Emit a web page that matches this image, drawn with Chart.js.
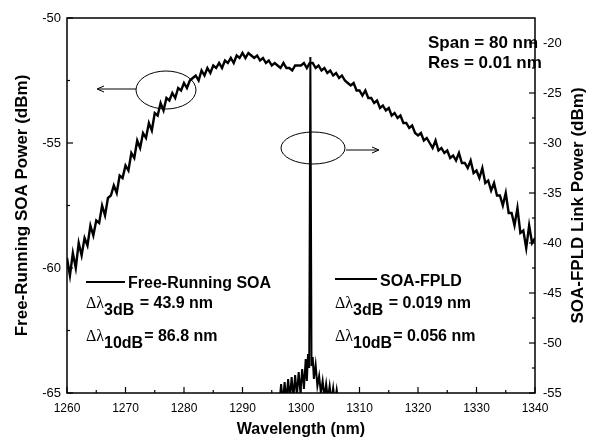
<!DOCTYPE html>
<html>
<head>
<meta charset="utf-8">
<script src="https://cdn.jsdelivr.net/npm/chart.js@4.4.1/dist/chart.umd.min.js"></script>
<style>
  html, body { margin: 0; padding: 0; background: #fff; }
  #wrap { width: 593px; height: 440px; position: relative; }
</style>
</head>
<body>
<div id="wrap"><canvas id="spectrum"></canvas></div>
<script>
// Free-running SOA spectrum, left axis (dBm), sampled every 0.5 nm from 1260 nm
var soaStart = 1260;
var soaStep = 0.5;
var soaDbm = [
  -59.6, -60.3, -59.4, -60.0,  -59.0, -59.5, -58.8, -59.1,
  -58.3, -58.7, -58.1, -58.2,  -57.5, -57.9, -57.2, -57.1,
  -56.7, -57.0, -56.3, -56.4,  -55.9, -56.1, -55.4, -55.6,
  -54.9, -55.2, -54.6, -54.8,  -54.2, -54.5, -53.8, -53.9,
  -53.4, -53.7, -53.2, -53.3,  -53.0, -53.2, -52.8, -52.9,
  -52.6, -52.8, -52.5, -52.4,  -52.3, -52.5, -52.1, -52.3,
  -52.0, -52.2, -51.9, -52.0,  -51.8, -52.0, -51.7, -51.8,
  -51.6, -51.8, -51.5, -51.6,  -51.4, -51.6, -51.4, -51.5,
  -51.6, -51.5, -51.7, -51.6,  -51.8, -51.7, -51.9, -51.8,
  -51.9, -52.0, -51.8, -52.0,  -52.0, -52.1, -51.9, -51.9,
  -51.9, -51.8, -52.0, -51.8,  -51.8, -52.0, -51.9, -52.1,
  -52.0, -52.2, -52.1, -52.3,  -52.2, -52.4, -52.3, -52.5,
  -52.6, -52.7, -52.6, -52.9,  -52.9, -53.1, -52.9, -53.2,
  -53.2, -53.4, -53.3, -53.6,  -53.5, -53.7, -53.6, -53.9,
  -53.8, -54.0, -53.9, -54.2,  -54.2, -54.4, -54.3, -54.6,
  -54.7, -54.6, -54.9, -54.8,  -55.0, -55.2, -54.9, -55.3,
  -55.2, -55.4, -55.3, -55.6,  -55.5, -55.7, -55.4, -55.8,
  -55.8, -56.0, -55.7, -56.2,  -56.1, -56.4, -56.0, -56.6,
  -56.5, -56.9, -56.6, -57.1,  -57.1, -57.5, -57.0, -57.8,
  -57.8, -58.3, -57.6, -58.6,  -58.5, -59.2, -58.3, -59.0,
  -58.8
];

// SOA-FPLD link spectrum, right axis (dBm)
var fpldWl = [
  1296.3, 1296.6, 1296.9, 1297.2, 1297.5, 1297.8, 1298.1, 1298.4, 1298.7, 1299.0,
  1299.3, 1299.6, 1299.9, 1300.2, 1300.5, 1300.8, 1301.0, 1301.2, 1301.4, 1301.6,
  1301.8, 1302.0, 1302.2, 1302.5, 1302.8, 1303.1, 1303.4, 1303.7, 1304.0, 1304.3,
  1304.6, 1304.9, 1305.2, 1305.5, 1305.8, 1306.1, 1306.4, 1306.7
];
var fpldDbm = [
  -56.0, -54.1, -56.0, -53.9, -55.8, -53.6, -55.6, -53.4, -55.5, -53.2,
  -55.3, -52.9, -55.0, -52.6, -54.6, -51.6, -53.8, -51.1, -52.5, -21.4,
  -52.3, -51.4, -53.6, -52.2, -54.3, -53.3, -55.0, -53.8, -55.4, -54.1,
  -55.6, -54.3, -55.8, -54.5, -56.0, -54.7, -56.0, -57.0
];

var xTicks = { min: 1260, max: 1340, step: 10 };
var leftTicks = { min: -65, max: -50, step: 5 };
var rightTicks = { min: -55, max: -17.5, step: 5 };

var soaPoints = soaDbm.map(function (v, i) { return { x: soaStart + i * soaStep, y: v }; });
var fpldPoints = fpldWl.map(function (w, i) { return { x: w, y: fpldDbm[i] }; });

var sans = "'Liberation Sans', Arial, sans-serif";
var serif = "'Liberation Serif', 'Times New Roman', serif";

function line(ctx, x1, y1, x2, y2) {
  ctx.beginPath(); ctx.moveTo(x1, y1); ctx.lineTo(x2, y2); ctx.stroke();
}

// delta-lambda label with bold subscript
function dLambda(ctx, x, y, sub, rest) {
  ctx.font = "16px " + serif;
  ctx.fillText("\u0394\u03bb", x, y);
  var w = ctx.measureText("\u0394\u03bb").width;
  ctx.font = "bold 16px " + sans;
  ctx.fillText(sub, x + w, y + 7);
  var w2 = ctx.measureText(sub).width;
  ctx.fillText(rest, x + w + w2 + 1, y);
}

var decorations = {
  id: 'decorations',
  afterDatasetsDraw: function (chart) {
    var ctx = chart.ctx, a = chart.chartArea, s = chart.scales;
    ctx.save();
    ctx.strokeStyle = '#000';
    ctx.fillStyle = '#000';
    ctx.lineWidth = 1.5;
    ctx.strokeRect(a.left, a.top, a.right - a.left, a.bottom - a.top);

    // inward tick marks, major + minor
    ctx.lineWidth = 1.2;
    var v;
    for (v = xTicks.min; v <= xTicks.max; v += xTicks.step / 2) {
      var px = s.x.getPixelForValue(v);
      line(ctx, px, a.bottom, px, a.bottom - (v % xTicks.step === 0 ? 6 : 3));
    }
    for (v = leftTicks.min; v <= leftTicks.max; v += leftTicks.step / 2) {
      var py = s.y.getPixelForValue(v);
      line(ctx, a.left, py, a.left + (v % leftTicks.step === 0 ? 6 : 3), py);
    }
    for (v = rightTicks.min; v <= -20; v += rightTicks.step / 2) {
      var ry = s.y2.getPixelForValue(v);
      line(ctx, a.right, ry, a.right - (v % rightTicks.step === 0 ? 6 : 3), ry);
    }

    // ellipses with arrows pointing to each axis
    ctx.lineWidth = 1;
    ctx.beginPath(); ctx.ellipse(166, 90, 30, 19, 0, 0, Math.PI * 2); ctx.stroke();
    line(ctx, 136, 89, 98, 89);
    line(ctx, 97, 89, 104, 86); line(ctx, 97, 89, 104, 92);
    ctx.beginPath(); ctx.ellipse(313, 148, 32, 16, 0, 0, Math.PI * 2); ctx.stroke();
    line(ctx, 346, 150, 378, 150);
    line(ctx, 379, 150, 372, 147); line(ctx, 379, 150, 372, 153);

    // text notes
    ctx.textBaseline = 'alphabetic';
    ctx.textAlign = 'left';
    ctx.font = "bold 17px " + sans;
    ctx.fillText("Span = 80 nm", 428, 48);
    ctx.fillText("Res = 0.01 nm", 428, 68);

    ctx.lineWidth = 2;
    line(ctx, 86, 282, 125, 282);
    line(ctx, 335, 279, 377, 279);
    ctx.font = "bold 16px " + sans;
    ctx.fillText("Free-Running SOA", 128, 288);
    ctx.fillText("SOA-FPLD", 380, 286);
    dLambda(ctx, 86, 308, "3dB", " = 43.9 nm");
    dLambda(ctx, 86, 341, "10dB", "= 86.8 nm");
    dLambda(ctx, 335, 308, "3dB", " = 0.019 nm");
    dLambda(ctx, 335, 341, "10dB", "= 0.056 nm");

    // right axis title, reading bottom to top
    ctx.translate(578, (a.top + a.bottom) / 2);
    ctx.rotate(-Math.PI / 2);
    ctx.textAlign = 'center';
    ctx.textBaseline = 'middle';
    ctx.font = "bold 17px " + sans;
    ctx.fillText("SOA-FPLD Link Power (dBm)", 0, 0);
    ctx.restore();
  }
};

new Chart(document.getElementById("spectrum"), {
  type: 'line',
  data: {
    datasets: [{
      label: 'Free-Running SOA',
      data: soaPoints,
      yAxisID: 'y',
      borderColor: '#000',
      borderWidth: 2.4,
      pointRadius: 0,
      tension: 0
    }, {
      label: 'SOA-FPLD',
      data: fpldPoints,
      yAxisID: 'y2',
      borderColor: '#000',
      borderWidth: 2,
      pointRadius: 0,
      tension: 0
    }]
  },
  options: {
    responsive: true,
    maintainAspectRatio: false,
    animation: false,
    layout: { padding: { top: 18 } },
    plugins: {
      legend: { display: false },
      tooltip: { enabled: false }
    },
    scales: {
      x: {
        type: 'linear',
        min: xTicks.min, max: xTicks.max,
        grid: { display: false, drawTicks: false },
        border: { display: false },
        ticks: { stepSize: xTicks.step, color: '#000', padding: 8, maxRotation: 0,
                 font: { family: sans, size: 12 },
                 callback: function (v) { return String(v); } },
        title: { display: true, text: 'Wavelength (nm)', color: '#000',
                 font: { family: sans, size: 16, weight: 'bold' }, padding: { bottom: 1 } },
        afterFit: function (scale) { scale.height = 47; }
      },
      y: {
        position: 'left',
        min: leftTicks.min, max: leftTicks.max,
        grid: { display: false, drawTicks: false },
        border: { display: false },
        ticks: { stepSize: leftTicks.step, color: '#000', padding: 6,
                 font: { family: sans, size: 13 } },
        title: { display: true, text: 'Free-Running SOA Power (dBm)', color: '#000',
                 font: { family: sans, size: 17, weight: 'bold' }, padding: { top: 12 } },
        afterFit: function (scale) { scale.width = 67; }
      },
      y2: {
        position: 'right',
        min: rightTicks.min, max: rightTicks.max,
        grid: { display: false, drawTicks: false },
        border: { display: false },
        ticks: { stepSize: rightTicks.step, includeBounds: false, color: '#000', padding: 8,
                 font: { family: sans, size: 13 } },
        afterFit: function (scale) { scale.width = 58; }
      }
    }
  },
  plugins: [decorations]
});
</script>
</body>
</html>
